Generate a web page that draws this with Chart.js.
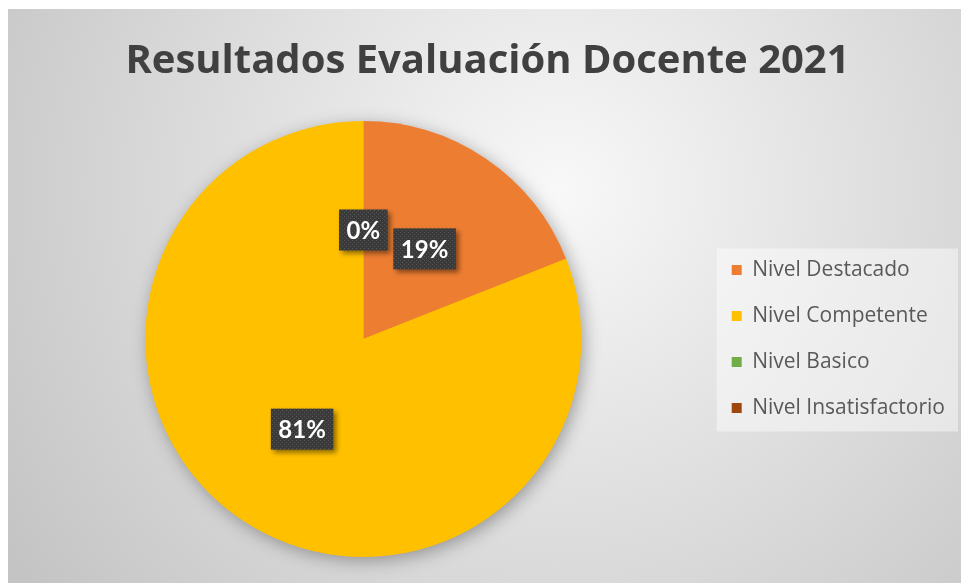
<!DOCTYPE html>
<html>
<head>
<meta charset="utf-8">
<script src="https://cdn.jsdelivr.net/npm/chart.js@4"></script>
<style>
  body { margin: 0; background: #fff; }
</style>
</head>
<body>
<canvas id="grafico" width="961" height="583"></canvas>
<script>
const categorias = ["Nivel Destacado", "Nivel Competente", "Nivel Basico", "Nivel Insatisfactorio"];
const valores = [19, 81, 0, 0];
const colores = ['#ED7D31', '#FFC000', '#70AD47', '#9E480E'];

// textura punteada de las etiquetas
const tela = document.createElement('canvas');
tela.width = 4; tela.height = 4;
const tc = tela.getContext('2d');
tc.fillStyle = '#3a3a3a';
tc.fillRect(0, 0, 4, 4);
tc.fillStyle = '#565656';
tc.fillRect(0, 0, 1, 1);
tc.fillRect(2, 2, 1, 1);

const fondo = {
  id: 'fondo',
  beforeDraw(chart) {
    const ctx = chart.ctx;
    ctx.save();
    ctx.fillStyle = '#fff';
    ctx.fillRect(0, 0, chart.width, chart.height);
    const g = ctx.createRadialGradient(560, 190, 0, 560, 190, 660);
    g.addColorStop(0, '#f8f8f8');
    g.addColorStop(1, '#c4c4c4');
    ctx.fillStyle = g;
    ctx.fillRect(8, 9, chart.width - 8, chart.height - 9);

    // caja de la leyenda
    const hb = chart.legend.legendHitBoxes;
    if (hb && hb.length) {
      const izq = Math.min(...hb.map(h => h.left)) - 15;
      const der = Math.max(...hb.map(h => h.left + h.width)) + 13;
      const arr = hb[0].top - 11;
      const aba = hb[hb.length - 1].top + hb[hb.length - 1].height + 13;
      ctx.fillStyle = 'rgba(255,255,255,0.45)';
      ctx.fillRect(izq, arr, der - izq, aba - arr);
    }
    ctx.restore();
  },
  beforeDatasetsDraw(chart) {
    const arc = chart.getDatasetMeta(0).data[0];
    const { x, y, outerRadius } = arc.getProps(['x', 'y', 'outerRadius'], true);
    const ctx = chart.ctx;
    ctx.save();
    ctx.shadowColor = 'rgba(0,0,0,0.35)';
    ctx.shadowBlur = 18;
    ctx.shadowOffsetX = 3;
    ctx.shadowOffsetY = 4;
    ctx.fillStyle = '#FFC000';
    ctx.beginPath();
    ctx.arc(x, y, outerRadius - 1, 0, Math.PI * 2);
    ctx.fill();
    ctx.restore();
  }
};

const etiquetas = {
  id: 'etiquetas',
  afterDatasetsDraw(chart) {
    const ctx = chart.ctx;
    const meta = chart.getDatasetMeta(0);
    const total = valores.reduce((a, b) => a + b, 0);
    const hechos = [];
    ctx.save();
    ctx.font = 'bold 24px Lato';
    ctx.textAlign = 'center';
    ctx.textBaseline = 'middle';
    meta.data.forEach((arc, i) => {
      const p = arc.tooltipPosition(true);
      const clave = Math.round(p.x) + ',' + Math.round(p.y);
      if (hechos.includes(clave)) return;
      hechos.push(clave);
      const texto = Math.round(valores[i] / total * 100) + '%';
      const w = ctx.measureText(texto).width + 15;
      const h = 41;
      ctx.save();
      ctx.shadowColor = 'rgba(0,0,0,0.45)';
      ctx.shadowBlur = 5;
      ctx.shadowOffsetX = 3;
      ctx.shadowOffsetY = 3;
      ctx.fillStyle = ctx.createPattern(tela, 'repeat');
      ctx.fillRect(p.x - w / 2, p.y - h / 2, w, h);
      ctx.restore();
      ctx.fillStyle = '#ffffff';
      ctx.fillText(texto, p.x, p.y + 1);
    });
    ctx.restore();
  }
};

new Chart(document.getElementById('grafico'), {
  type: 'pie',
  data: {
    labels: categorias,
    datasets: [{
      data: valores,
      backgroundColor: colores,
      borderWidth: 0
    }]
  },
  options: {
    responsive: false,
    animation: false,
    layout: { padding: { top: 0, bottom: 26, left: 20, right: 6 } },
    plugins: {
      title: {
        display: true,
        text: 'Resultados Evaluación Docente 2021',
        color: '#404040',
        font: { family: 'Open Sans', size: 40, weight: 'bold' },
        padding: { top: 38, bottom: 35 }
      },
      legend: {
        position: 'right',
        fullSize: false,
        labels: {
          color: '#595959',
          font: { family: 'Open Sans', size: 21 },
          boxWidth: 10,
          boxHeight: 10,
          padding: 25
        }
      },
      tooltip: { enabled: false }
    }
  },
  plugins: [fondo, etiquetas]
});
</script>
</body>
</html>
